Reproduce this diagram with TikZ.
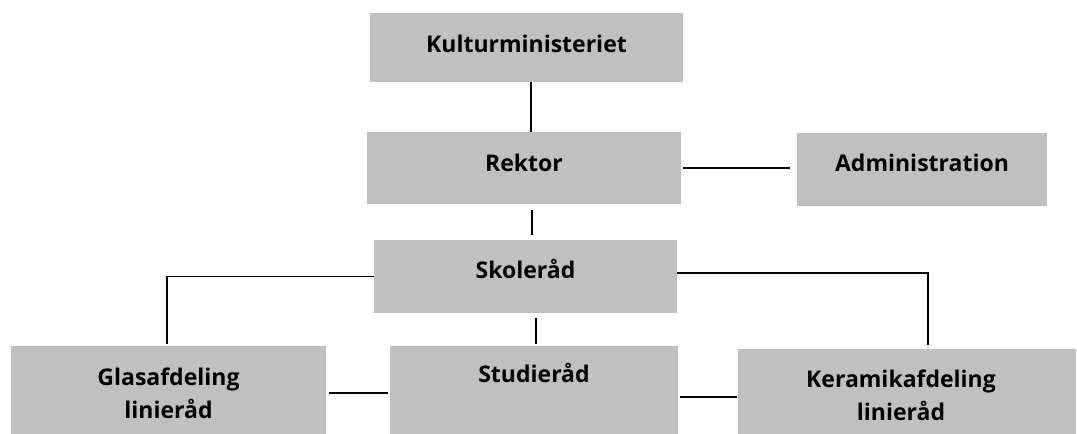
\documentclass[tikz,border=0pt]{standalone}
\usepackage{fontspec}
\setmainfont{Open Sans}
\definecolor{boxgray}{HTML}{C0C0C0}
\tikzset{
  orgbox/.style={fill=boxgray, draw=none, rectangle, inner sep=0pt},
  lbl/.style={anchor=base, font=\bfseries\fontsize{23}{33}\selectfont, text=black, inner sep=0pt},
  lbltwo/.style={anchor=center, align=center, font=\bfseries\fontsize{23}{33}\selectfont, text=black, inner sep=0pt},
  conn/.style={draw=black, line width=1.2pt}
}
\begin{document}
\begin{tikzpicture}[x=1pt,y=-1pt]
\useasboundingbox (0,0) rectangle (1077,434);
% boxes
\node[orgbox, minimum width=313pt, minimum height=69pt] (kult) at (526.5,47.5) {};
\node[orgbox, minimum width=314pt, minimum height=72pt] (rekt) at (524,168) {};
\node[orgbox, minimum width=250pt, minimum height=73pt] (admin) at (922,169.5) {};
\node[orgbox, minimum width=303pt, minimum height=73pt] (skole) at (525.5,276.5) {};
\node[orgbox, minimum width=288pt, minimum height=88pt] (stud) at (534,390) {};
\node[orgbox, minimum width=315pt, minimum height=88pt] (glas) at (168.5,390) {};
\node[orgbox, minimum width=338pt, minimum height=85pt] (ker) at (907,391.5) {};
% texts
\node[lbl] (kultT) at ([yshift=-4.5pt]kult.center) {Kulturministeriet};
\node[lbl] (rektT) at ([yshift=-3pt]rekt.center) {Rektor};
\node[lbl] (adminT) at ([yshift=-2pt]admin.center) {Administration};
\node[lbl] (skoleT) at ([yshift=-1.5pt]skole.center) {Skoleråd};
\node[lbl] (studT) at ([yshift=8pt]stud.center) {Studieråd};
\node[lbltwo] (glasT) at ([yshift=-3.75pt]glas.center) {Glasafdeling\\linieråd};
\node[lbltwo] (kerT) at ([xshift=-6pt,yshift=-4.25pt]ker.center) {Keramikafdeling\\linieråd};
% connectors
\draw[conn] ([xshift=4.5pt]kult.south) -- ([xshift=7pt]rekt.north);
\draw[conn] ([xshift=8pt,yshift=-6pt]rekt.south) -- ([xshift=6.5pt,yshift=5pt]skole.north);
\draw[conn] ([xshift=2pt]rekt.east) -- ([xshift=-7pt,yshift=1.5pt]admin.west);
\draw[conn] (skole.west) -| ([xshift=-1.5pt,yshift=2pt]glas.north);
\draw[conn] ([yshift=3.5pt]skole.east) -| ([xshift=21pt,yshift=4pt]ker.north);
\draw[conn] ([xshift=10.5pt,yshift=-5pt]skole.south) -- ([xshift=2pt,yshift=2pt]stud.north);
\draw[conn] ([xshift=3pt,yshift=-3pt]glas.east) -- ([xshift=-2pt,yshift=-3pt]stud.west);
\draw[conn] ([xshift=2pt,yshift=-7pt]stud.east) -- ([xshift=-1pt,yshift=-5.5pt]ker.west);
\end{tikzpicture}
\end{document}
